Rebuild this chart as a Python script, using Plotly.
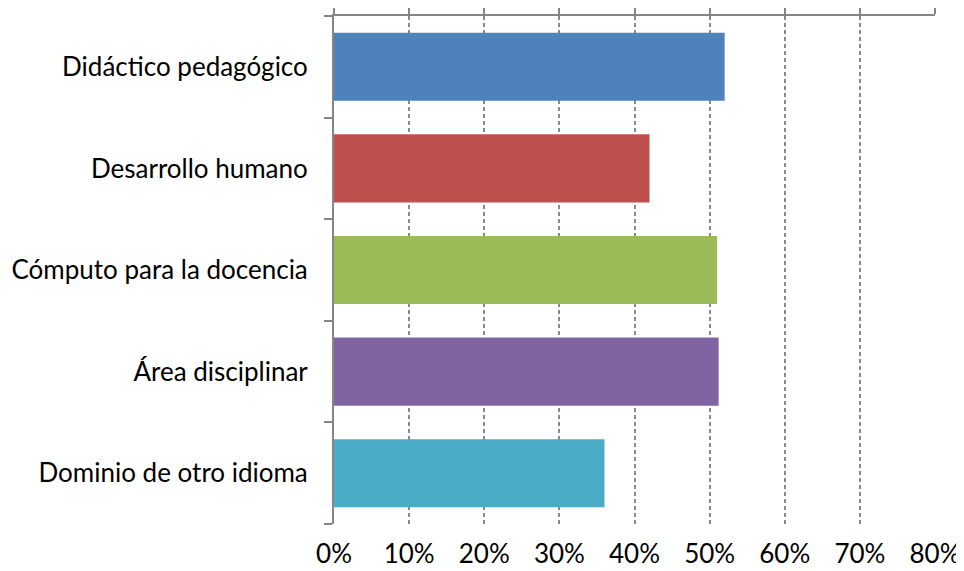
import plotly.graph_objects as go

categories = [
    "Didáctico pedagógico",
    "Desarrollo humano",
    "Cómputo para la docencia",
    "Área disciplinar",
    "Dominio de otro idioma",
]
values = [0.52, 0.42, 0.51, 0.512, 0.36]
colors = ["#4F81BD", "#C0504D", "#9BBB59", "#8064A2", "#4BACC6"]
x_ticks = [0, 0.1, 0.2, 0.3, 0.4, 0.5, 0.6, 0.7, 0.8]
x_labels = ["0%", "10%", "20%", "30%", "40%", "50%", "60%", "70%", "80%"]

axis_grey = "#868686"

fig = go.Figure()
fig.add_trace(
    go.Bar(
        x=values,
        y=categories,
        orientation="h",
        marker=dict(color=colors, line=dict(width=0)),
        width=0.67,
        showlegend=False,
    )
)
# empty trace so the top axis (line + ticks) is drawn
fig.add_trace(go.Scatter(x=[], y=[], xaxis="x2", yaxis="y", showlegend=False))

# page body has an 8px margin, so the figure is a bit smaller than the window
fig.update_layout(
    width=956,
    height=563,
    margin=dict(l=326, r=29, t=8, b=47),
    plot_bgcolor="white",
    paper_bgcolor="white",
    font=dict(family="Lato, 'Open Sans', sans-serif", size=26, color="#000000"),
    xaxis=dict(
        range=[0, 0.8],
        tickvals=x_ticks,
        ticktext=x_labels,
        showgrid=True,
        gridcolor="#8a8a8a",
        griddash="4px,3px",
        gridwidth=1.5,
        zeroline=False,
        showline=False,
        ticks="",
        ticklabelstandoff=12,
        automargin=False,
    ),
    xaxis2=dict(
        range=[0, 0.8],
        overlaying="x",
        side="top",
        tickvals=x_ticks,
        showticklabels=False,
        showgrid=False,
        zeroline=False,
        showline=True,
        linecolor=axis_grey,
        linewidth=2,
        ticks="outside",
        ticklen=8,
        tickcolor=axis_grey,
        tickwidth=2,
        automargin=False,
    ),
    yaxis=dict(
        categoryorder="array",
        categoryarray=categories[::-1],
        showline=True,
        linecolor=axis_grey,
        linewidth=2,
        ticks="outside",
        tickson="boundaries",
        ticklen=8,
        tickcolor=axis_grey,
        tickwidth=2,
        showgrid=False,
        ticklabelstandoff=19,
        automargin=False,
    ),
    bargap=0.33,
)

fig.write_html("out.html")
